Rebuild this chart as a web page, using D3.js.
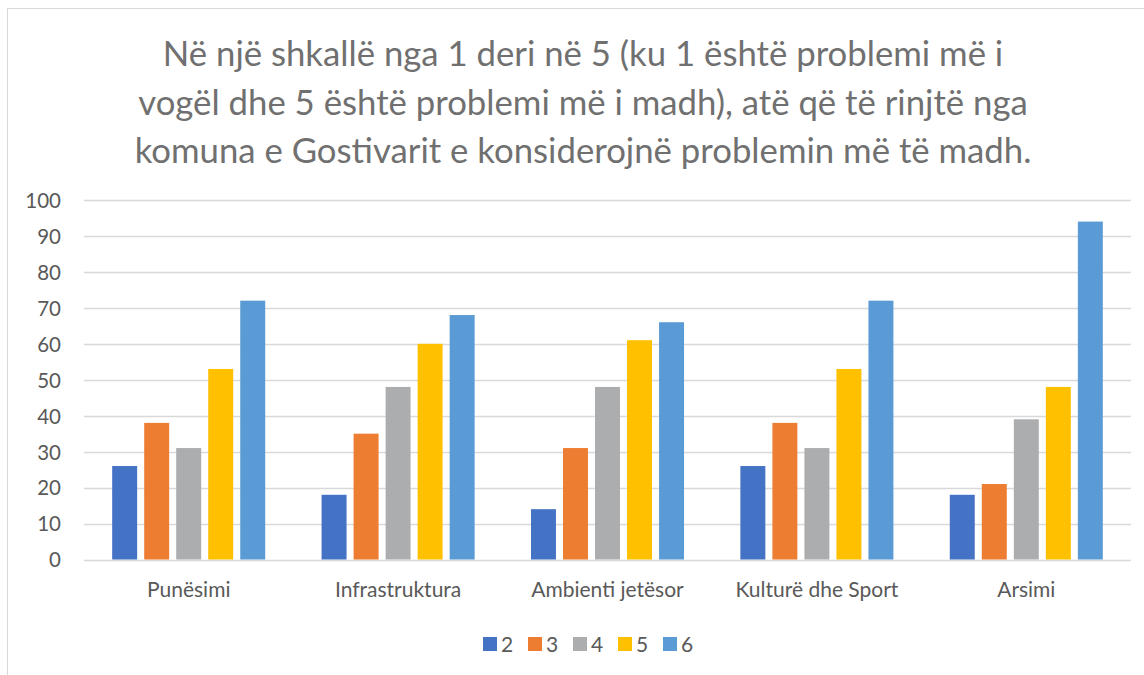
<!DOCTYPE html>
<html>
<head>
<meta charset="utf-8">
<script src="https://cdn.jsdelivr.net/npm/d3@7.9.0/dist/d3.min.js"></script>
<style>
  body { margin: 0; background: #fff; }
  svg text { font-family: Lato, "Open Sans", sans-serif; fill: #595959; }
</style>
</head>
<body>
<svg id="chart" width="1144" height="675"></svg>
<script>
const titleLines = [
  'Në një shkallë nga 1 deri në 5 (ku 1 është problemi më i',
  'vogël dhe 5 është problemi më i madh), atë që të rinjtë nga',
  'komuna e Gostivarit e konsiderojnë problemin më të madh.'
];
const categories = ['Punësimi', 'Infrastruktura', 'Ambienti jetësor', 'Kulturë dhe Sport', 'Arsimi'];
const seriesNames = ['2', '3', '4', '5', '6'];
const s2 = [26, 18, 14, 26, 18];
const s3 = [38, 35, 31, 38, 21];
const s4 = [31, 48, 48, 31, 39];
const s5 = [53, 60, 61, 53, 48];
const s6 = [72, 68, 66, 72, 94];
const yTicks = [0, 10, 20, 30, 40, 50, 60, 70, 80, 90, 100];
const colors = ['#4472C4', '#ED7D31', '#ACADAF', '#FFC000', '#5B9BD5'];

const seriesValues = [s2, s3, s4, s5, s6];

let svg = d3.select('#chart');

// outer frame of the chart area
svg.append('rect')
  .attr('x', 7.5).attr('y', 8.5)
  .attr('width', 1150).attr('height', 680)
  .attr('fill', 'none')
  .attr('stroke', '#d9d9d9');

// title, fitted to the width of the reference lines
let title = svg.append('g');
let baseSize = 30;
titleLines.forEach((line, i) => {
  title.append('text')
    .attr('x', 583)
    .attr('y', 66 + i * 48.5)
    .attr('text-anchor', 'middle')
    .style('font-size', baseSize + 'px')
    .style('fill', '#707070')
    .text(line);
});
let w = title.selectAll('text').nodes()[2].getComputedTextLength();
title.selectAll('text').style('font-size', (baseSize * 897 / w) + 'px');

let x = d3.scaleBand().domain(categories).range([84, 1131]);
let xInner = d3.scaleBand().domain(seriesNames).range([0, x.bandwidth()])
  .paddingInner(0.22).paddingOuter(0.88);
let y = d3.scaleLinear().domain([0, 100]).range([559.5, 200]);

// gridlines
svg.append('g')
  .selectAll('line')
  .data(yTicks)
  .join('line')
  .attr('x1', 84).attr('x2', 1131)
  .attr('y1', (d) => Math.round(y(d)) + 0.5)
  .attr('y2', (d) => Math.round(y(d)) + 0.5)
  .attr('stroke', '#d9d9d9')
  .attr('stroke-width', 1.3);

// y axis labels
let yAxis = svg.append('g')
  .attr('transform', 'translate(61,0)')
  .call(d3.axisLeft(y).tickValues(yTicks).tickSize(0).tickPadding(0));
yAxis.select('.domain').remove();
yAxis.selectAll('text').style('font-size', '20.5px').attr('dy', '0.36em');

// bars
seriesValues.forEach((vals, si) => {
  svg.append('g')
    .selectAll('rect')
    .data(vals)
    .join('rect')
    .attr('x', (d, i) => x(categories[i]) + xInner(seriesNames[si]))
    .attr('y', (d) => y(d))
    .attr('width', xInner.bandwidth())
    .attr('height', (d) => y(0) - y(d))
    .attr('fill', colors[si]);
});

// category labels
let xAxis = svg.append('g')
  .attr('transform', 'translate(0,' + 597 + ')')
  .call(d3.axisBottom(x).tickSize(0).tickPadding(0));
xAxis.select('.domain').remove();
xAxis.selectAll('text').style('font-size', '21px').attr('dy', '0');

// legend
let legend = svg.append('g');
seriesNames.forEach((name, i) => {
  let lx = 483 + i * 45;
  legend.append('rect')
    .attr('x', lx).attr('y', 637)
    .attr('width', 14).attr('height', 14)
    .attr('fill', colors[i]);
  legend.append('text')
    .attr('x', lx + 18).attr('y', 651.5)
    .style('font-size', '21px')
    .text(name);
});
</script>
</body>
</html>
